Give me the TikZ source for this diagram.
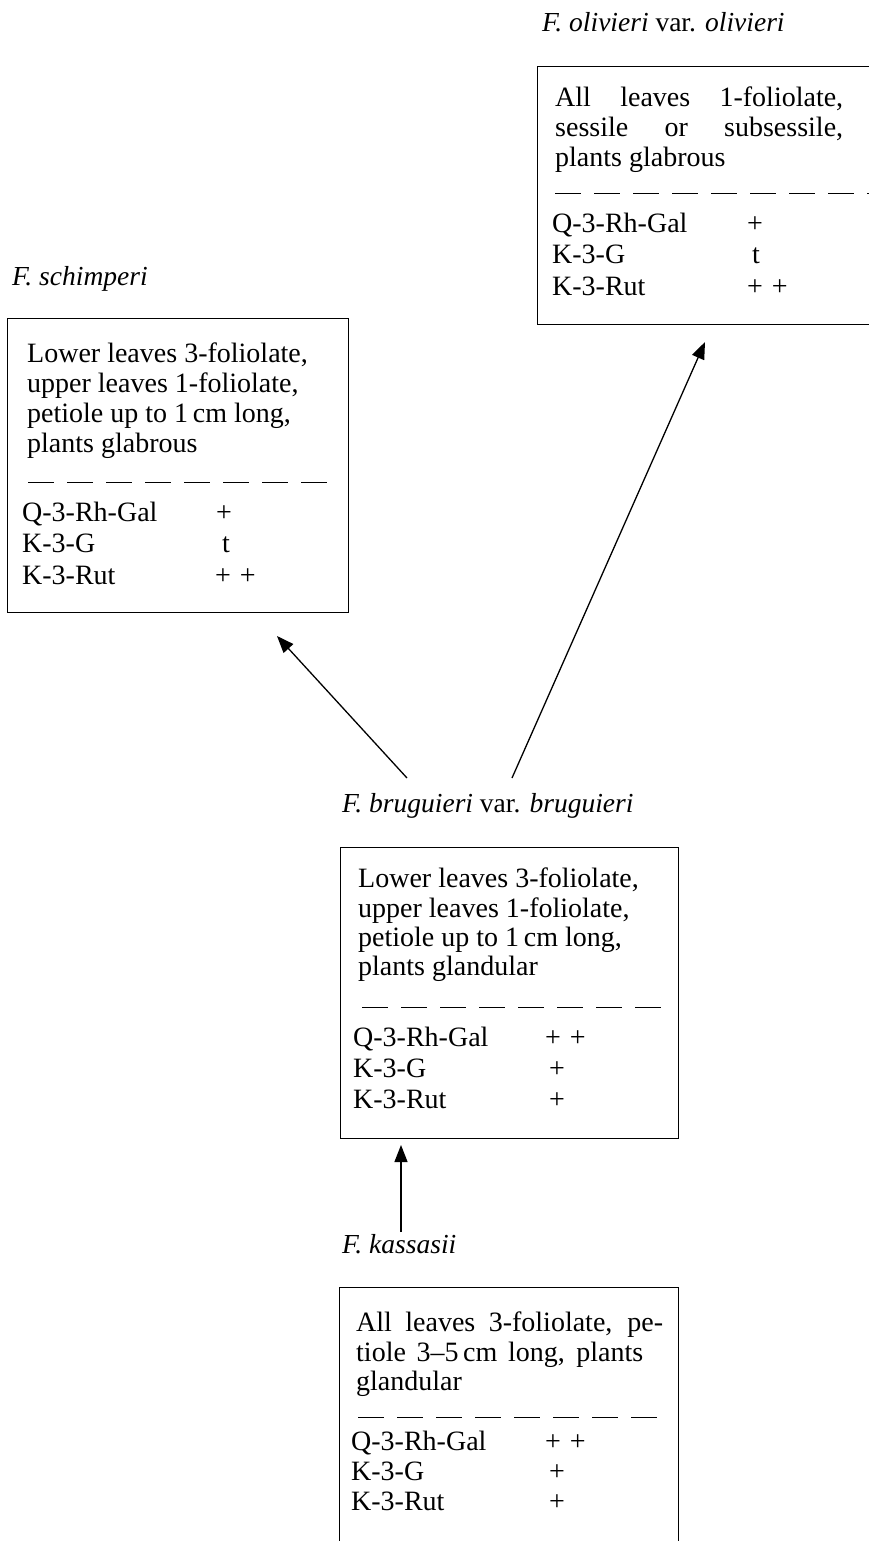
\documentclass[tikz,border=0pt]{standalone}
\usepackage{fontspec}
\setmainfont{Liberation Serif}
\usetikzlibrary{arrows.meta}
\tikzset{
 box/.style={draw, line width=1.4pt, inner sep=0pt, anchor=north west},
 body/.style={inner sep=0pt, anchor=base west, font=\fontsize{28}{30}\selectfont},
 sign/.style={inner sep=0pt, anchor=base, font=\fontsize{28}{30}\selectfont},
 ttl/.style={inner sep=0pt, anchor=base west, font=\fontsize{27.5}{30}\selectfont},
 sepline/.style={line width=1pt, dash pattern=on 26pt off 13pt},
 arr/.style={line width=1.3pt, -{Triangle[length=17pt,width=13pt]}},
}
\newcommand\txl[4]{\node[body] (#1) at (#2,#3) {#4};}
\newcommand\pp{+\hspace{9pt}+}
\begin{document}
\begin{tikzpicture}[x=1pt,y=-1pt]
\useasboundingbox (0,0) rectangle (869,1541);
\clip (0,0) rectangle (869,1541);

% ---------- F. olivieri ----------
\node[ttl] (tO) at (542,32) {\textit{F. olivieri} var. \textit{olivieri}};
\node[box, minimum width=360pt, minimum height=258pt] (bO) at (537,66) {};
\txl{o1}{555}{107}{\makebox[288pt][s]{All leaves 1-foliolate,}}
\txl{o2}{555}{137}{\makebox[288pt][s]{sessile or subsessile,}}
\txl{o3}{555}{167}{plants glabrous}
\draw[sepline] (555,194) -- (900,194);
\txl{o4}{552}{232}{Q-3-Rh-Gal}
\txl{o5}{552}{263}{K-3-G}
\txl{o6}{552}{295}{K-3-Rut}
\node[sign] (o7) at (755,232) {+};
\node[sign] (o8) at (756,263) {t};
\node[body] (o9) at (747,295) {\pp};

% ---------- F. schimperi ----------
\node[ttl] (tS) at (12,285) {\textit{F. schimperi}};
\node[box, minimum width=341pt, minimum height=294pt] (bS) at (7,318) {};
\txl{s1}{27}{362}{Lower leaves 3-foliolate,}
\txl{s2}{27}{392}{upper leaves 1-foliolate,}
\txl{s3}{27}{422}{petiole up to 1\,cm long,}
\txl{s4}{27}{452}{plants glabrous}
\draw[sepline] (28,482) -- (340,482);
\txl{s5}{22}{521}{Q-3-Rh-Gal}
\txl{s6}{22}{552}{K-3-G}
\txl{s7}{22}{584}{K-3-Rut}
\node[sign] (s8) at (224,521) {+};
\node[sign] (s9) at (226,552) {t};
\node[body] (s10) at (215,584) {\pp};

% ---------- F. bruguieri ----------
\node[ttl] (tB) at (342,812) {\textit{F. bruguieri} var. \textit{bruguieri}};
\node[box, minimum width=338pt, minimum height=291pt] (bB) at (340,847) {};
\txl{b1}{358}{887}{Lower leaves 3-foliolate,}
\txl{b2}{358}{917}{upper leaves 1-foliolate,}
\txl{b3}{358}{946}{petiole up to 1\,cm long,}
\txl{b4}{358}{975}{plants glandular}
\draw[sepline] (362,1007) -- (670,1007);
\txl{b5}{353}{1046}{Q-3-Rh-Gal}
\txl{b6}{353}{1077}{K-3-G}
\txl{b7}{353}{1108}{K-3-Rut}
\node[body] (b8) at (545,1046) {\pp};
\node[sign] (b9) at (557,1077) {+};
\node[sign] (b10) at (557,1108) {+};

% ---------- F. kassasii ----------
\node[ttl] (tK) at (342,1253) {\textit{F. kassasii}};
\node[box, minimum width=339pt, minimum height=300pt] (bK) at (339,1287) {};
\txl{k1}{356}{1331}{\makebox[307pt][s]{All leaves 3-foliolate, pe-}}
\txl{k2}{356}{1361}{\makebox[287pt][s]{tiole 3--5\,cm long, plants}}
\txl{k3}{356}{1390}{glandular}
\draw[sepline] (358,1417) -- (668,1417);
\txl{k4}{351}{1450}{Q-3-Rh-Gal}
\txl{k5}{351}{1480}{K-3-G}
\txl{k6}{351}{1510}{K-3-Rut}
\node[body] (k7) at (545,1450) {\pp};
\node[sign] (k8) at (557,1480) {+};
\node[sign] (k9) at (557,1510) {+};

% ---------- connectors ----------
\coordinate (aSs) at (407,778);
\coordinate (aSe) at (277,636);
\coordinate (aOs) at (512,778);
\coordinate (aOe) at (705,342);
\coordinate (aBs) at (401,1232);
\coordinate (aBe) at (401,1145);
\draw[arr] (aSs) -- (aSe);
\draw[arr] (aOs) -- (aOe);
\draw[arr] (aBs) -- (aBe);
\end{tikzpicture}
\end{document}
